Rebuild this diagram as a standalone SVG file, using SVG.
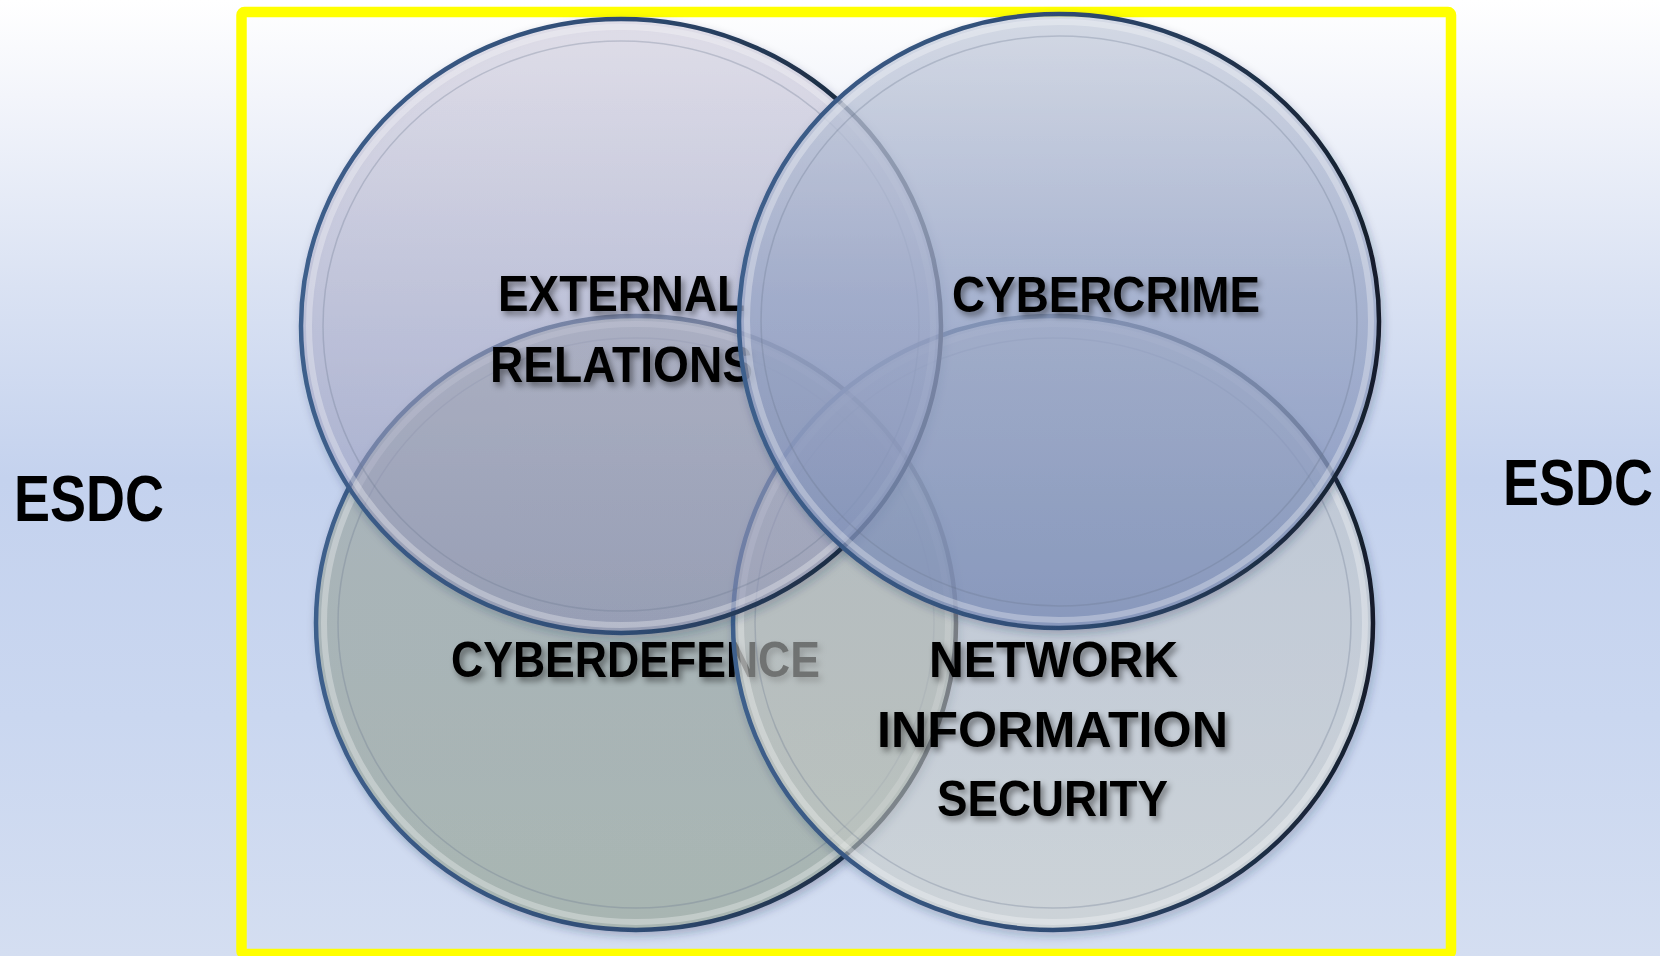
<svg xmlns="http://www.w3.org/2000/svg" width="1660" height="956" viewBox="0 0 1660 956">
<defs>
<linearGradient id="bg" x1="0" y1="0" x2="0" y2="1">
<stop offset="0" stop-color="#ffffff"/>
<stop offset="0.1" stop-color="#f3f5fb"/>
<stop offset="0.3" stop-color="#dae2f3"/>
<stop offset="0.5" stop-color="#c4d2ee"/>
<stop offset="0.75" stop-color="#cad7f0"/>
<stop offset="1" stop-color="#d4def1"/>
</linearGradient>
<linearGradient id="gA" x1="0" y1="0" x2="0" y2="1">
<stop offset="0" stop-color="#d6d3e4"/>
<stop offset="1" stop-color="#9296bc"/>
</linearGradient>
<linearGradient id="gB" x1="0" y1="0" x2="0" y2="1">
<stop offset="0" stop-color="#d0d7e5"/>
<stop offset="0.45" stop-color="#a0adcd"/>
<stop offset="1" stop-color="#7c8fbb"/>
</linearGradient>
<linearGradient id="gC" x1="0" y1="0" x2="0" y2="1">
<stop offset="0" stop-color="#a8b2b6"/>
<stop offset="1" stop-color="#a4b2a8"/>
</linearGradient>
<linearGradient id="gD" x1="0" y1="0" x2="0" y2="1">
<stop offset="0" stop-color="#c4cad0"/>
<stop offset="1" stop-color="#d4d8d0"/>
</linearGradient>
<linearGradient id="gS" x1="0" y1="0" x2="1" y2="0">
<stop offset="0" stop-color="#3e5f8c"/>
<stop offset="0.5" stop-color="#2f4c74"/>
<stop offset="1" stop-color="#151e2c"/>
</linearGradient>
<filter id="sh" x="-10%" y="-10%" width="120%" height="125%">
<feDropShadow dx="2" dy="4" stdDeviation="4" flood-color="#203050" flood-opacity="0.3"/>
</filter>
<filter id="tsh" x="-10%" y="-30%" width="120%" height="170%">
<feDropShadow dx="3" dy="4" stdDeviation="3" flood-color="#000000" flood-opacity="0.45"/>
</filter>
</defs>
<style>
.ring{stroke:url(#gS);stroke-width:4.5}
.bev{fill:none;stroke:#ffffff;stroke-opacity:0.3;stroke-width:6}
.bev2{fill:none;stroke:#6a7890;stroke-opacity:0.3;stroke-width:1.5}
.lbl{font-family:"Liberation Sans",Arial,sans-serif;font-weight:bold;fill:#000000;font-size:50px}
.esdc{font-family:"Liberation Sans",Arial,sans-serif;font-weight:bold;fill:#000000;font-size:54px}
</style>
<rect x="0" y="0" width="1660" height="956" fill="url(#bg)"/>
<rect id="frame" x="241.5" y="12" width="1209.5" height="942" rx="3" fill="none" stroke="#ffff00" stroke-width="10.5"/>
<g id="esdc-left"><text class="esdc" x="14" y="439.7" transform="scale(1 1.185)">ESDC</text></g>
<g id="esdc-right"><text class="esdc" x="1503" y="426.2" transform="scale(1 1.185)">ESDC</text></g>
<g id="connectors"></g>
<g id="cyberdefence">
<ellipse class="ring" cx="636" cy="623" rx="320" ry="307" fill="url(#gC)" fill-opacity="0.75" filter="url(#sh)"/>
<ellipse class="bev" cx="636" cy="623" rx="312" ry="299"/>
<ellipse class="bev2" cx="636" cy="623" rx="298" ry="285"/>
<text class="lbl" x="451" y="677" textLength="369" lengthAdjust="spacingAndGlyphs" filter="url(#tsh)">CYBERDEFENCE</text>
</g>
<g id="network-information-security">
<ellipse class="ring" cx="1053" cy="623" rx="320" ry="307" fill="url(#gD)" fill-opacity="0.5" filter="url(#sh)"/>
<ellipse class="bev" cx="1053" cy="623" rx="312" ry="299"/>
<ellipse class="bev2" cx="1053" cy="623" rx="298" ry="285"/>
<text class="lbl" x="929" y="677" textLength="249" lengthAdjust="spacingAndGlyphs" filter="url(#tsh)">NETWORK</text>
<text class="lbl" x="877" y="747" textLength="351" lengthAdjust="spacingAndGlyphs" filter="url(#tsh)">INFORMATION</text>
<text class="lbl" x="937" y="816" textLength="231" lengthAdjust="spacingAndGlyphs" filter="url(#tsh)">SECURITY</text>
</g>
<g id="external-relations">
<ellipse class="ring" cx="621" cy="326" rx="320" ry="307" fill="url(#gA)" fill-opacity="0.5" filter="url(#sh)"/>
<ellipse class="bev" cx="621" cy="326" rx="312" ry="299"/>
<ellipse class="bev2" cx="621" cy="326" rx="298" ry="285"/>
<text class="lbl" x="498" y="311" textLength="247" lengthAdjust="spacingAndGlyphs" filter="url(#tsh)">EXTERNAL</text>
<text class="lbl" x="490" y="382" textLength="263" lengthAdjust="spacingAndGlyphs" filter="url(#tsh)">RELATIONS</text>
</g>
<g id="cybercrime">
<ellipse class="ring" cx="1059" cy="321" rx="320" ry="307" fill="url(#gB)" fill-opacity="0.72" filter="url(#sh)"/>
<ellipse class="bev" cx="1059" cy="321" rx="312" ry="299"/>
<ellipse class="bev2" cx="1059" cy="321" rx="298" ry="285"/>
<text class="lbl" x="952" y="312" textLength="308" lengthAdjust="spacingAndGlyphs" filter="url(#tsh)">CYBERCRIME</text>
</g>
</svg>
